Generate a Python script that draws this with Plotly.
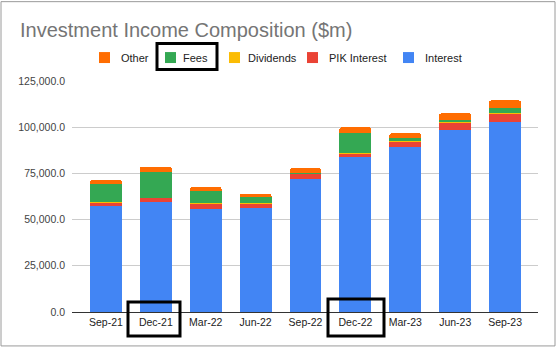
import plotly.graph_objects as go

categories = ["Sep-21", "Dec-21", "Mar-22", "Jun-22", "Sep-22", "Dec-22", "Mar-23", "Jun-23", "Sep-23"]
interest = [57400, 59400, 55600, 56300, 72000, 83700, 89100, 98400, 102800]
pik_interest = [2000, 2300, 3300, 2600, 2700, 2200, 3200, 4200, 4700]
dividends = [20, 20, 20, 20, 20, 20, 20, 20, 20]
fees = [9700, 14100, 6400, 3200, 700, 10800, 1800, 1200, 2800]
other = [2200, 2700, 2200, 1800, 2400, 3200, 2600, 3700, 4200]
y_ticks = [0, 25000, 50000, 75000, 100000, 125000]

series = [
    ("Interest", interest, "#4285F4"),
    ("PIK Interest", pik_interest, "#EA4335"),
    ("Dividends", dividends, "#FBBC04"),
    ("Fees", fees, "#34A853"),
    ("Other", other, "#FF6D01"),
]
legend_order = ["Other", "Fees", "Dividends", "PIK Interest", "Interest"]
legend_sq_x = [99, 165, 229, 307, 403]     # left edge of legend swatches (px)
legend_txt_x = [119, 181, 246, 327, 423]   # left edge of legend labels (px)

fig = go.Figure()
for name, vals, color in series:
    fig.add_trace(go.Bar(x=categories, y=vals, name=name,
                         marker=dict(color=color, line=dict(width=0)), showlegend=False))

W, H = 560, 351
L, R, T, B = 72, 22, 80.5, 39
pw, ph = W - L - R, H - T - B

def px(x):
    return (x - L) / pw

def py(y):
    return (H - B - y) / ph

colors = {n: c for n, _, c in series}
shapes = [
    dict(type="rect", xref="paper", yref="paper", x0=px(1), x1=px(555), y0=py(346), y1=py(1),
         line=dict(color="#9a9a9a", width=1), fillcolor="rgba(0,0,0,0)", layer="below"),
]
annotations = []
LEG_Y = 57
for name, sx, tx in zip(legend_order, legend_sq_x, legend_txt_x):
    shapes.append(dict(type="rect", xref="paper", yref="paper",
                       x0=px(sx), x1=px(sx + 11), y0=py(LEG_Y + 5.5), y1=py(LEG_Y - 5.5),
                       line=dict(width=0), fillcolor=colors[name]))
    annotations.append(dict(text=name, xref="paper", yref="paper", x=px(tx), y=py(LEG_Y),
                            xanchor="left", yanchor="middle", showarrow=False,
                            font=dict(size=11, color="#222222")))

# highlight boxes
shapes += [
    dict(type="rect", xref="paper", yref="paper", x0=px(157), x1=px(217), y0=py(69), y1=py(43),
         line=dict(color="#000000", width=3)),
    dict(type="rect", xref="paper", yref="paper", x0=px(128), x1=px(180), y0=py(336), y1=py(302),
         line=dict(color="#000000", width=3)),
    dict(type="rect", xref="paper", yref="paper", x0=px(328), x1=px(384), y0=py(336), y1=py(299),
         line=dict(color="#000000", width=3)),
]

fig.update_layout(
    width=W, height=H,
    margin=dict(l=L, r=R, t=T, b=B),
    paper_bgcolor="white", plot_bgcolor="white",
    barmode="stack", bargap=0.36, barcornerradius=2,
    font=dict(family="Arial, Liberation Sans, sans-serif", size=11, color="#222222"),
    title=dict(text="Investment Income Composition ($m)", x=20 / W, xanchor="left",
               y=1 - 30 / H, yanchor="middle", yref="container",
               font=dict(size=20, color="#757575")),
    showlegend=False,
    xaxis=dict(range=[-0.68, 8.66], showline=True, linecolor="#333333", linewidth=1,
               showgrid=False, tickfont=dict(size=10.5, color="#222222"), ticks=""),
    yaxis=dict(range=[0, 125000], tickvals=y_ticks, tickformat=",.1f",
               showgrid=True, gridcolor="#cccccc", gridwidth=1, zeroline=False,
               tickfont=dict(size=10.5, color="#444444"), ticklabelstandoff=6),
    shapes=shapes,
    annotations=annotations,
)

fig.write_html("out.html")
